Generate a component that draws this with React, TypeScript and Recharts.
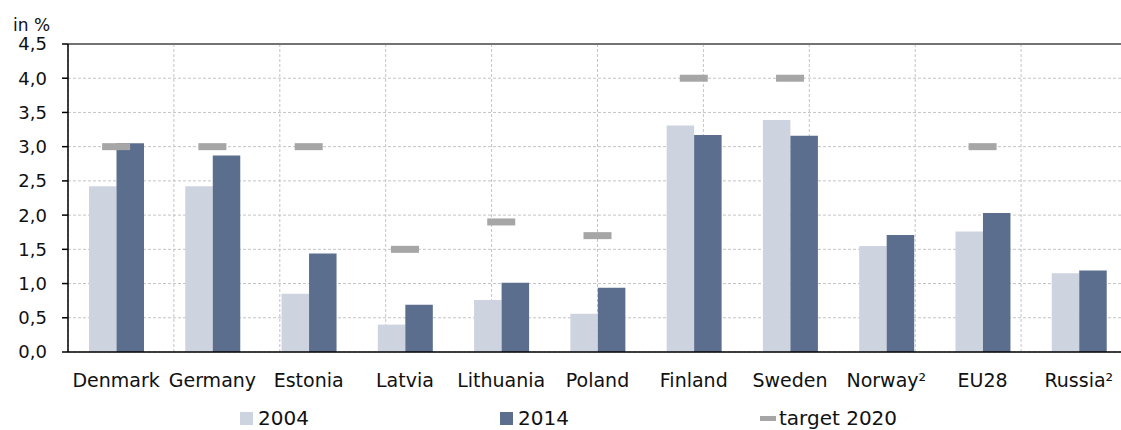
import { ComposedChart, Bar, Line, XAxis, YAxis, CartesianGrid, ReferenceLine } from "recharts";

const countries = ["Denmark", "Germany", "Estonia", "Latvia", "Lithuania", "Poland", "Finland", "Sweden", "Norway²", "EU28", "Russia²"];
const values2004 = [2.42, 2.42, 0.85, 0.4, 0.76, 0.56, 3.31, 3.39, 1.55, 1.76, 1.15];
const values2014 = [3.05, 2.87, 1.44, 0.69, 1.01, 0.94, 3.17, 3.16, 1.71, 2.03, 1.19];
const target2020 = [3.0, 3.0, 3.0, 1.5, 1.9, 1.7, 4.0, 4.0, null, 3.0, null];
const yTicks = [0, 0.5, 1, 1.5, 2, 2.5, 3, 3.5, 4, 4.5];
const boundaryTicks = [0, 1, 2, 3, 4, 5, 6, 7, 8, 9, 10, 11];

const LIGHT = "#cdd3df";
const DARK = "#5b6e8e";
const TARGET = "#a6a6a6";
const FONT = "'DejaVu Sans', sans-serif";

const data = countries.map((name, i) => ({
  name,
  v2004: values2004[i],
  v2014: values2014[i],
  target: target2020[i],
}));

const TargetMark = (props: any) => {
  const { cx, cy, index } = props;
  if (cy == null || isNaN(cy) || target2020[index] == null) return <g key={`t-${index}`} />;
  return <rect key={`t-${index}`} x={cx - 14} y={cy - 3.5} width={28} height={7} fill={TARGET} />;
};

const fmt = (v: number) => v.toFixed(1).replace(".", ",");

const legendItem = { position: "absolute" as const, top: 406, display: "flex", alignItems: "center", fontSize: 20, color: "#111" };

export default function App() {
  return (
    <div style={{ position: "absolute", left: 0, top: 0, width: 1121, height: 430, overflow: "hidden", fontFamily: FONT }}>
      <style>{"html,body{margin:0;overflow:hidden}"}</style>
      <div style={{ position: "absolute", left: 13, top: 15, fontSize: 17, color: "#111" }}>in %</div>
      <div style={{ position: "absolute", left: 8, top: 8 }}>
        <ComposedChart
          width={1130}
          height={414}
          data={data}
          margin={{ top: 36, right: 11, bottom: 30, left: 0 }}
          barGap={0}
        >
          <XAxis
            xAxisId="b"
            type="number"
            domain={[0, 11]}
            ticks={boundaryTicks}
            height={0}
            axisLine={false}
            tickSize={8}
            tickLine={{ stroke: "#333", strokeWidth: 1.5 }}
            tick={() => <g />}
          />
          <CartesianGrid xAxisId="b" stroke="#c4c4c4" strokeDasharray="3 2" />
          <XAxis
            xAxisId="a"
            dataKey="name"
            height={40}
            tickLine={false}
            tickSize={0}
            tickMargin={22}
            axisLine={{ stroke: "#000", strokeWidth: 1.5 }}
            interval={0}
            tick={{ fill: "#111", fontSize: 19, fontFamily: FONT }}
          />
          <YAxis
            domain={[0, 4.5]}
            ticks={yTicks}
            width={60}
            tickSize={6}
            tickMargin={15}
            tickFormatter={fmt}
            axisLine={{ stroke: "#000", strokeWidth: 1.5 }}
            tickLine={{ stroke: "#000", strokeWidth: 1.5 }}
            tick={{ fill: "#111", fontSize: 18, fontFamily: FONT }}
          />
          <ReferenceLine xAxisId="a" y={4.5} stroke="#737373" strokeWidth={2} />
          <Bar xAxisId="a" dataKey="v2004" fill={LIGHT} barSize={27.5} isAnimationActive={false} />
          <Bar xAxisId="a" dataKey="v2014" fill={DARK} barSize={27.5} isAnimationActive={false} />
          <Line
            xAxisId="a"
            dataKey="target"
            stroke="none"
            dot={TargetMark}
            activeDot={false}
            isAnimationActive={false}
          />
        </ComposedChart>
      </div>
      <div style={{ ...legendItem, left: 240 }}>
        <span style={{ width: 13, height: 13, background: LIGHT, marginRight: 5 }} />
        2004
      </div>
      <div style={{ ...legendItem, left: 500 }}>
        <span style={{ width: 13, height: 13, background: DARK, marginRight: 5 }} />
        2014
      </div>
      <div style={{ ...legendItem, left: 760 }}>
        <span style={{ width: 16, height: 5, background: TARGET, marginRight: 3 }} />
        target 2020
      </div>
    </div>
  );
}
